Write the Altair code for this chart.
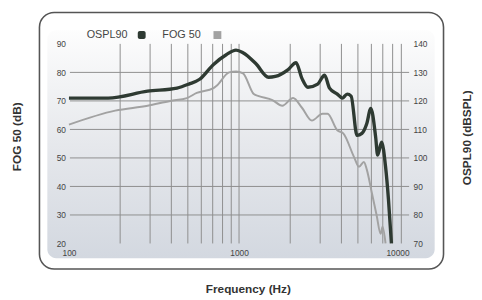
import altair as alt
import pandas as pd

# ---- data ----
ospl_freq = [100, 170, 290, 432, 507, 587, 708, 841, 960, 1055,
             1254, 1490, 1636, 1945, 2163, 2344, 2540, 2900, 3184, 3404,
             3784, 4045, 4324, 4560, 4940, 5278, 5640, 5953, 6360, 6530,
             6890, 7270, 7560, 7870]
ospl_db = [121.0, 121.0, 123.4, 124.5, 125.9, 127.6, 132.8, 136.2, 137.8, 136.9,
           133.1, 128.3, 128.6, 131.0, 133.4, 127.9, 124.8, 125.9, 129.0, 124.5,
           122.4, 121.0, 122.4, 121.7, 107.9, 108.6, 112.1, 117.4, 107.2, 101.0,
           105.5, 96.9, 85.5, 70.0]

fog_freq = [100, 187, 290, 394, 494, 564, 708, 735, 875, 962,
            1055, 1221, 1305, 1572, 1796, 2079, 2344, 2680, 3098, 3313,
            3784, 4100, 4746, 5070, 5420, 5640, 6030, 6450, 6800, 6980,
            7270]
fog_db = [61.7, 66.6, 68.3, 70.0, 71.0, 72.8, 74.5, 75.2, 80.0, 80.3,
          79.7, 72.4, 71.7, 70.3, 68.3, 71.0, 67.6, 63.1, 65.5, 65.5,
          59.7, 58.6, 50.3, 46.9, 48.6, 45.9, 37.9, 29.7, 23.4, 25.9,
          20.0]

x_ticks = [100, 1000, 10000]
x_grid = [200, 300, 400, 500, 600, 700, 800, 900, 1000,
          2000, 3000, 4000, 5000, 6000, 7000, 8000, 9000]
left_ticks = [20, 30, 40, 50, 60, 70, 80, 90]
right_ticks = [70, 80, 90, 100, 110, 120, 130, 140]
y_grid = [30, 40, 50, 60, 70, 80]
series_names = ["OSPL90", "FOG 50"]

# ---- styling ----
FONT = "Liberation Sans"
DARK = "#2e3a32"
GRAY = "#a2a2a2"
GRID = "#8e8e8e"
W, H = 346, 203

ospl_df = pd.DataFrame({"freq": ospl_freq, "db": ospl_db})
fog_df = pd.DataFrame({"freq": fog_freq, "db": fog_db})
xgrid_df = pd.DataFrame({"freq": x_grid})
ygrid_df = pd.DataFrame({"db": y_grid})
dummy = pd.DataFrame({"k": [0]})

x_scale = alt.Scale(type="log", domain=[100, 10000], nice=False)
x_axis = alt.Axis(values=x_ticks, format="d", ticks=False, domain=False, grid=False, zindex=2,
                  labelFont=FONT, labelFontSize=8.5, labelColor="#444", labelPadding=5,
                  labelAlign=alt.expr("datum.value >= 10000 ? 'right' : 'center'"),
                  title="Frequency (Hz)", titleFont=FONT, titleFontSize=12,
                  titleFontWeight="bold", titleColor="#333", titleX=182, titleY=50,
                  titleBaseline="alphabetic", titleAlign="center")
xenc = alt.X("freq:Q", scale=x_scale, axis=x_axis)

left_scale = alt.Scale(domain=[20, 90], nice=False, zero=False)
left_axis = alt.Axis(values=left_ticks, ticks=False, domain=False, grid=False, zindex=2,
                     labelFont=FONT, labelFontSize=8.5, labelColor="#444",
                     labelAlign="left", labelPadding=13,
                     title="FOG 50 (dB)", titleFont=FONT, titleFontSize=12,
                     titleFontWeight="bold", titleColor="#333", titleAngle=270,
                     titleX=-53, titleY=94, titleAlign="center", titleBaseline="middle")
right_scale = alt.Scale(domain=[70, 140], nice=False, zero=False)
right_axis = alt.Axis(orient="right", values=right_ticks, ticks=False, domain=False, grid=False,
                      zindex=2,
                      labelFont=FONT, labelFontSize=8.5, labelColor="#444",
                      labelAlign="left", labelPadding=4,
                      title="OSPL90 (dBSPL)", titleFont=FONT, titleFontSize=12,
                      titleFontWeight="bold", titleColor="#333", titleAngle=270,
                      titleX=58, titleY=95, titleAlign="center", titleBaseline="middle")

# ---- decorative frame ----
outer = alt.Chart(dummy).mark_rect(fill="white", stroke="#555555", strokeWidth=1.6,
                                   cornerRadius=15).encode(
    x=alt.value(-30), x2=alt.value(381), y=alt.value(-32), y2=alt.value(229))
grad = alt.LinearGradient(gradient="linear",
                          stops=[alt.GradientStop(color="#fdfdfd", offset=0),
                                 alt.GradientStop(color="#e6e8ec", offset=0.5),
                                 alt.GradientStop(color="#d3d8e0", offset=1)],
                          x1=0, x2=0, y1=0, y2=1)
inner = alt.Chart(dummy).mark_rect(fill=grad, cornerRadius=9).encode(
    x=alt.value(-22), x2=alt.value(372), y=alt.value(-14), y2=alt.value(218))

# ---- grid ----
vgrid = alt.Chart(xgrid_df).mark_rule(color=GRID, strokeWidth=1).encode(
    x=xenc, y=alt.value(0), y2=alt.value(H))
hgrid = alt.Chart(ygrid_df).mark_rule(color=GRID, strokeWidth=1).encode(
    y=alt.Y("db:Q", scale=left_scale, axis=left_axis), x=alt.value(1), x2=alt.value(W))

# ---- curves ----
fog_line = alt.Chart(fog_df).mark_line(color=GRAY, strokeWidth=2, interpolate="monotone").encode(
    x=xenc, y=alt.Y("db:Q", scale=left_scale, axis=left_axis))
ospl_line = alt.Chart(ospl_df).mark_line(color=DARK, strokeWidth=3.4, interpolate="monotone",
                                         strokeJoin="round").encode(
    x=xenc, y=alt.Y("db:Q", scale=right_scale, axis=right_axis))

left_layer = alt.layer(hgrid, fog_line)

# ---- legend ----
leg1 = alt.Chart(pd.DataFrame({"name": [series_names[0]]})).mark_text(
    align="left", baseline="middle", font=FONT, fontSize=11, color="#444").encode(
    x=alt.value(18), y=alt.value(-9), text="name:N")
leg2 = alt.Chart(pd.DataFrame({"name": [series_names[1]]})).mark_text(
    align="left", baseline="middle", font=FONT, fontSize=11, color="#444").encode(
    x=alt.value(95), y=alt.value(-9), text="name:N")
sq1 = alt.Chart(dummy).mark_rect(fill=DARK, cornerRadius=2).encode(
    x=alt.value(70), x2=alt.value(78), y=alt.value(-13), y2=alt.value(-5))
sq2 = alt.Chart(dummy).mark_rect(fill=GRAY).encode(
    x=alt.value(147), x2=alt.value(155), y=alt.value(-13), y2=alt.value(-5))

chart = alt.layer(outer, inner, vgrid, left_layer, ospl_line, leg1, leg2, sq1, sq2).resolve_scale(
    y="independent").properties(
    width=W, height=H,
    padding={"left": 62, "top": 34, "right": 66, "bottom": 55},
    autosize=alt.AutoSizeParams(type="none"),
    background="white",
).configure_view(stroke=None)

chart.save("out.html", embed_options={"renderer": "svg", "actions": False})
